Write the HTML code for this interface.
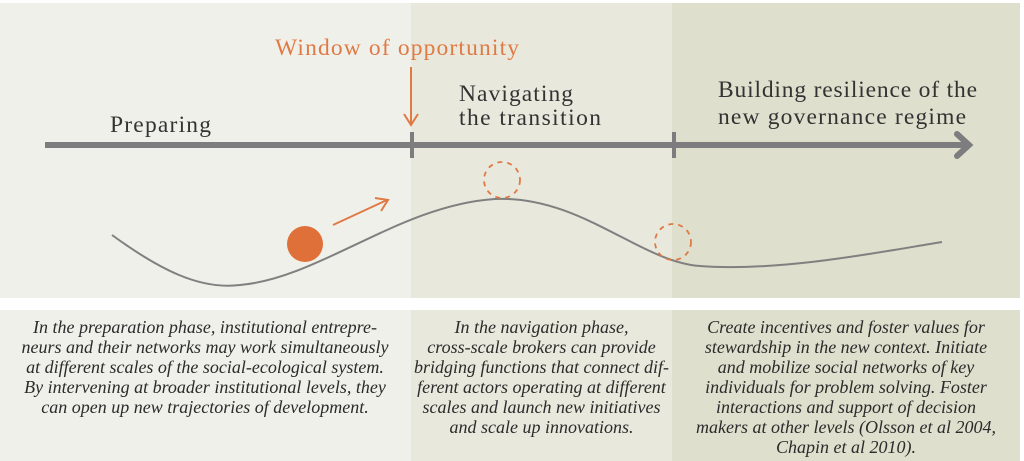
<!DOCTYPE html>
<html><head><style>
body{margin:0;width:1024px;height:461px;background:#fff;position:relative;overflow:hidden;font-family:"Liberation Serif",serif}
.p{position:absolute}
.t{position:absolute;font-style:italic;font-size:18px;line-height:20px;color:#2b2b2b;text-align:center;white-space:nowrap}
</style></head><body>
<div class="p" style="left:0;top:3px;width:411px;height:295px;background:#f0f0ea"></div>
<div class="p" style="left:411px;top:3px;width:261px;height:295px;background:#e8e9dc"></div>
<div class="p" style="left:672px;top:3px;width:348px;height:295px;background:#dedfcd"></div>
<div class="p" style="left:0;top:310px;width:411px;height:151px;background:#f0f0ea"></div>
<div class="p" style="left:411px;top:310px;width:261px;height:151px;background:#e8e9dc"></div>
<div class="p" style="left:672px;top:310px;width:348px;height:151px;background:#dedfcd"></div>
<svg class="p" style="left:0;top:0" width="1024" height="300">
<g font-family="Liberation Serif, serif" font-size="23.5" fill="#333">
<text x="275" y="55" fill="#e07a45" textLength="244" lengthAdjust="spacing">Window of opportunity</text>
<text x="110" y="132" textLength="101" lengthAdjust="spacing">Preparing</text>
<text x="459" y="101" textLength="114" lengthAdjust="spacing">Navigating</text>
<text x="459" y="125" textLength="142" lengthAdjust="spacing">the transition</text>
<text x="718" y="97" textLength="259" lengthAdjust="spacing">Building resilience of the</text>
<text x="718" y="124" textLength="248" lengthAdjust="spacing">new governance regime</text>
</g>
<line x1="45" y1="145" x2="966" y2="145" stroke="#7d7d80" stroke-width="6"/>
<polyline points="957,134 969,145 957,156" fill="none" stroke="#7d7d80" stroke-width="6" stroke-linecap="round"/>
<line x1="412" y1="132" x2="412" y2="158" stroke="#7d7d80" stroke-width="4"/>
<line x1="674" y1="132" x2="674" y2="158" stroke="#7d7d80" stroke-width="4"/>
<line x1="411" y1="67" x2="411" y2="125" stroke="#e07a45" stroke-width="2"/>
<polyline points="404,114 411,125 418,114" fill="none" stroke="#e07a45" stroke-width="2"/>
<path d="M112,235 C160,270 200,290 240,285 C320,278 400,205 495,199 C580,195 640,262 700,266 C780,272 880,252 942,242" fill="none" stroke="#808080" stroke-width="2"/>
<circle cx="305" cy="244" r="18" fill="#e0703a"/>
<line x1="333" y1="225" x2="387" y2="200" stroke="#e07a45" stroke-width="2"/>
<polyline points="375,198 388,200 381,211" fill="none" stroke="#e07a45" stroke-width="2"/>
<circle cx="502" cy="180" r="18" fill="none" stroke="#e07a45" stroke-width="1.8" stroke-dasharray="5,5"/>
<circle cx="673" cy="242" r="18" fill="none" stroke="#e07a45" stroke-width="1.8" stroke-dasharray="5,5"/>
</svg>
<div class="t" style="left:5px;top:317px;width:400px">In the preparation phase, institutional entrepre-<br>neurs and their networks may work simultaneously<br>at different scales of the social-ecological system.<br>By intervening at broader institutional levels, they<br>can open up new trajectories of development.</div>
<div class="t" style="left:411px;top:317px;width:261px">In the navigation phase,<br>cross-scale brokers can provide<br>bridging functions that connect dif-<br>ferent actors operating at different<br>scales and launch new initiatives<br>and scale up innovations.</div>
<div class="t" style="left:672px;top:317px;width:348px">Create incentives and foster values for<br>stewardship in the new context. Initiate<br>and mobilize social networks of key<br>individuals for problem solving. Foster<br>interactions and support of decision<br>makers at other levels (Olsson et al 2004,<br>Chapin et al 2010).</div>
</body></html>
